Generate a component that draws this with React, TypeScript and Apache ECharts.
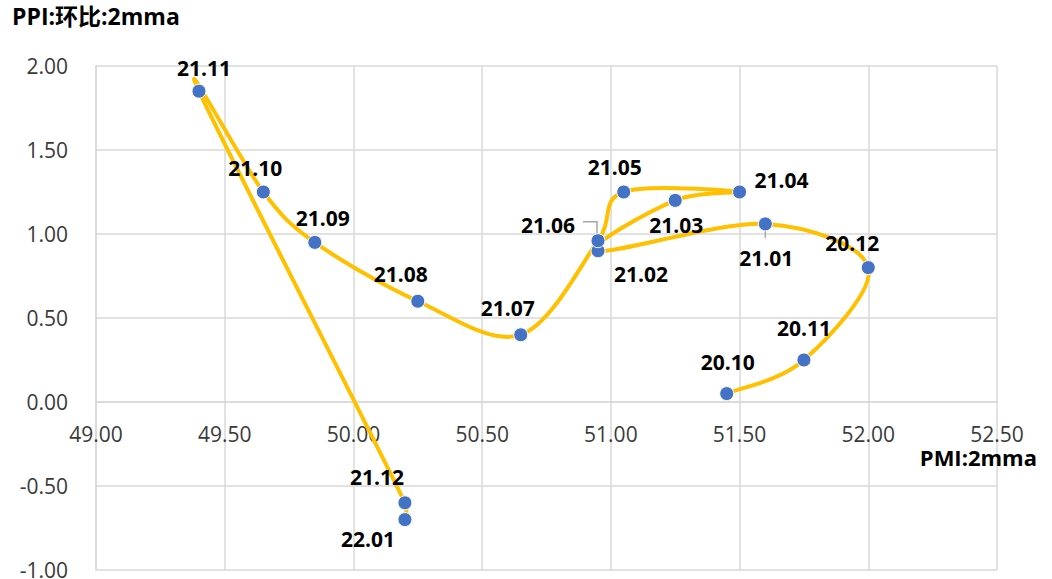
import React, { useEffect, useRef } from "react";
import * as echarts from "echarts";

// Month labels (YY.MM) in drawing order
const months = ["20.10", "20.11", "20.12", "21.01", "21.02", "21.03", "21.04", "21.05", "21.06", "21.07", "21.08", "21.09", "21.10", "21.11", "21.12", "22.01"];
// PMI: 2mma (x)
const pmi = [51.45, 51.75, 52.0, 51.6, 50.95, 51.25, 51.5, 51.05, 50.95, 50.65, 50.25, 49.85, 49.65, 49.4, 50.2, 50.2];
// PPI 环比: 2mma (y)
const ppi = [0.05, 0.25, 0.8, 1.06, 0.9, 1.2, 1.25, 1.25, 0.96, 0.4, 0.6, 0.95, 1.25, 1.85, -0.6, -0.7];

// axis ranges
const xMin = 49, xMax = 52.5, xStep = 0.5;
const yMin = -1, yMax = 2, yStep = 0.5;

// label placement (pixel offset of label centre from its point)
const labelOffsets: number[][] = [
  [1, -32], [0, -32], [-16, -25], [1, 34], [43, 23], [1, 25], [42, -12], [-9, -25],
  [-50, -16], [-13, -27], [-17, -27], [8, -24], [-8, -24], [5, -23], [-28, -26], [-37, 19],
];

const FONT = '"Open Sans", "Noto Sans CJK SC", sans-serif';

export default function App() {
  const ref = useRef<HTMLDivElement>(null);
  useEffect(() => {
    if (!ref.current) return;
    const chart = echarts.init(ref.current, undefined, { renderer: "svg" });
    const n = pmi.length;
    const scatterData = months.map((m, i) => ({
      value: [pmi[i], ppi[i]],
      name: m,
      label: { offset: labelOffsets[i] },
    }));
    const curveData = pmi.map((x, i) => [x, ppi[i]]);
    chart.setOption({
      animation: false,
      backgroundColor: "#ffffff",
      textStyle: { fontFamily: FONT },
      grid: { left: 96, top: 66, right: 55, bottom: 9, outerBoundsMode: "none", containLabel: false },
      xAxis: {
        type: "value",
        min: xMin,
        max: xMax,
        interval: xStep,
        axisLine: { show: true, onZero: false, lineStyle: { color: "#d9d9d9", width: 1.5 } },
        axisTick: { show: false },
        axisLabel: {
          fontFamily: FONT,
          fontSize: 21,
          lineHeight: 21,
          color: "#3a3a3a",
          margin: 21,
          formatter: (v: number) => v.toFixed(2),
        },
        splitLine: { show: true, lineStyle: { color: "#d9d9d9", width: 1.5 } },
      },
      yAxis: {
        type: "value",
        min: yMin,
        max: yMax,
        interval: yStep,
        axisLine: { show: true, onZero: false, lineStyle: { color: "#d9d9d9", width: 1.5 } },
        axisTick: { show: false },
        axisLabel: {
          fontFamily: FONT,
          fontSize: 21,
          lineHeight: 21,
          color: "#3a3a3a",
          margin: 28,
          formatter: (v: number) => v.toFixed(2),
        },
        splitLine: { show: true, lineStyle: { color: "#d9d9d9", width: 1.5 } },
      },
      series: [
        {
          type: "custom",
          data: curveData,
          clip: false,
          silent: true,
          z: 1,
          renderItem: (params: any, api: any) => {
            const i = params.dataIndex;
            if (i >= n - 1) return null;
            const P = (j: number) => {
              const k = Math.max(0, Math.min(n - 1, j));
              return api.coord([pmi[k], ppi[k]]);
            };
            const p0 = P(i - 1), p1 = P(i), p2 = P(i + 1), p3 = P(i + 2);
            const seg = Math.hypot(p2[0] - p1[0], p2[1] - p1[1]);
            const tan = (a: number[], b: number[]) => {
              let tx = (b[0] - a[0]) / 6, ty = (b[1] - a[1]) / 6;
              const len = Math.hypot(tx, ty);
              const cap = seg / 2;
              if (len > cap && len > 0) { tx *= cap / len; ty *= cap / len; }
              return [tx, ty];
            };
            const t1 = tan(p0, p2), t2 = tan(p1, p3);
            return {
              type: "bezierCurve",
              shape: { x1: p1[0], y1: p1[1], cpx1: p1[0] + t1[0], cpy1: p1[1] + t1[1], cpx2: p2[0] - t2[0], cpy2: p2[1] - t2[1], x2: p2[0], y2: p2[1] },
              style: { stroke: "#FFC000", lineWidth: 4, fill: "none", lineCap: "round" },
            };
          },
        },
        {
          type: "scatter",
          data: scatterData,
          z: 3,
          symbol: "circle",
          symbolSize: 14,
          itemStyle: { color: "#4472C4", opacity: 1, borderColor: "#ffffff", borderWidth: 1 },
          label: {
            show: true,
            position: "inside",
            align: "center",
            verticalAlign: "middle",
            formatter: (p: any) => p.name,
            fontFamily: FONT,
            fontSize: 21,
            fontWeight: "bold",
            color: "#000000",
          },
        },
      ],
    });

    // place the x axis (line + labels) on y = 0, as in the reference
    const yZero = chart.convertToPixel({ yAxisIndex: 0 }, 0) as number;
    const yBottom = chart.convertToPixel({ yAxisIndex: 0 }, yMin) as number;
    const p06 = chart.convertToPixel({ seriesIndex: 1 }, [pmi[8], ppi[8]]) as number[];
    const p01 = chart.convertToPixel({ seriesIndex: 1 }, [pmi[3], ppi[3]]) as number[];
    chart.setOption({
      xAxis: { offset: yZero - yBottom },
      graphic: [
        {
          type: "text",
          left: 12,
          top: 4,
          style: { text: "PPI:环比:2mma", font: `bold 23px ${FONT}`, fill: "#000" },
        },
        {
          type: "text",
          right: 15,
          top: 446,
          style: { text: "PMI:2mma", font: `bold 22px ${FONT}`, lineHeight: 22, fill: "#000" },
        },
        {
          type: "polyline",
          z: 1,
          shape: { points: [[p06[0] - 15, p06[1] - 19], [p06[0] - 1, p06[1] - 19], [p06[0] - 1, p06[1] - 6]] },
          style: { stroke: "#a6a6a6", lineWidth: 1.5, fill: "none" },
        },
        {
          type: "line",
          z: 1,
          shape: { x1: p01[0], y1: p01[1] + 6, x2: p01[0], y2: p01[1] + 14 },
          style: { stroke: "#a6a6a6", lineWidth: 1.5 },
        },
      ],
    });
    return () => chart.dispose();
  }, []);
  return <div ref={ref} style={{ position: "fixed", left: 0, top: 0, width: 1052, height: 579 }} />;
}
